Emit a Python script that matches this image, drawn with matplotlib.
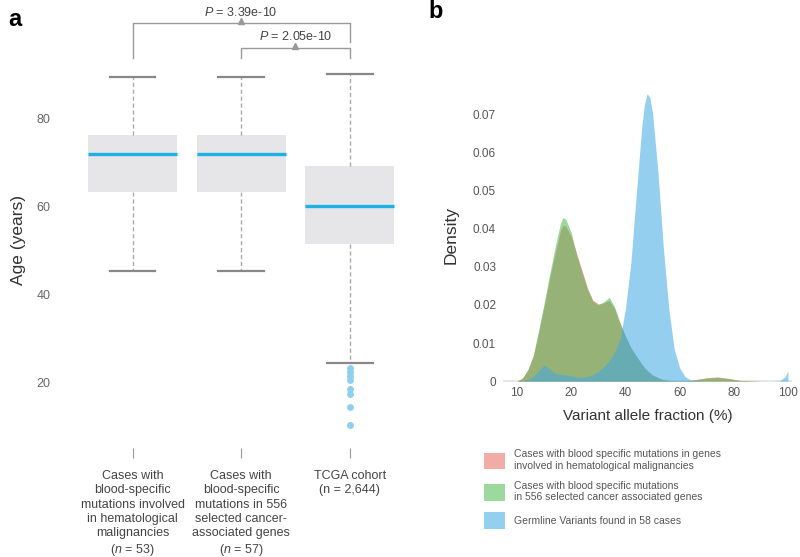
import matplotlib
matplotlib.use('Agg')
import matplotlib.pyplot as plt
from matplotlib.patches import Patch

plt.rcParams['font.family'] = ['Liberation Sans', 'DejaVu Sans']
plt.rcParams['mathtext.fontset'] = 'custom'
plt.rcParams['mathtext.rm'] = 'Liberation Sans'
plt.rcParams['mathtext.it'] = 'Liberation Sans:italic'

# ---- panel a: age box plots ----
group_labels = [
    'Cases with\nblood-specific\nmutations involved\nin hematological\nmalignancies\n($\\it{n}$ = 53)',
    'Cases with\nblood-specific\nmutations in 556\nselected cancer-\nassociated genes\n($\\it{n}$ = 57)',
    'TCGA cohort\n(n = 2,644)',
]
box_med = [72, 72, 60]
box_q1 = [63.2, 63.2, 51.3]
box_q3 = [76.1, 76.1, 69.1]
box_lo = [45.2, 45.2, 24.3]
box_hi = [89.3, 89.3, 90.2]
tcga_outliers = [23.2, 22.3, 21.4, 20.5, 18.4, 17.3, 14.3, 10.2]
p_values = ['3.39e-10', '2.05e-10']

# ---- panel b: VAF densities ----
vaf = [0, 2, 4, 6, 8, 10, 12, 14, 16, 17, 18, 20, 22, 24, 26, 28, 30, 32, 34, 36,
       38, 40, 42, 44, 46, 47, 48, 49, 50, 52, 54, 56, 58, 60, 62, 64, 66, 70, 74,
       78, 82, 86, 90, 94, 97, 99, 100]
dens_heme = [0, 0.0008, 0.003, 0.0066, 0.013, 0.0198, 0.027, 0.0335, 0.0395, 0.041,
             0.0407, 0.038, 0.0335, 0.029, 0.0245, 0.0212, 0.0203, 0.0206, 0.0212, 0.019,
             0.0152, 0.0118, 0.0088, 0.0066, 0.0045, 0.0036, 0.0028, 0.0022, 0.0016, 0.0009,
             0.0004, 0.0002, 0.0001, 0.0001, 0.0001, 0.0002, 0.0004, 0.0009, 0.0011,
             0.0007, 0.0002, 0.0001, 0, 0, 0, 0, 0]
dens_cancer = [0, 0.0008, 0.003, 0.0068, 0.0135, 0.0205, 0.028, 0.035, 0.0415, 0.043,
               0.0425, 0.039, 0.033, 0.0285, 0.024, 0.021, 0.020, 0.0208, 0.022, 0.0195,
               0.0153, 0.0118, 0.0088, 0.0066, 0.0045, 0.0036, 0.0028, 0.0022, 0.0016, 0.0009,
               0.0004, 0.0002, 0.0001, 0.0001, 0.0001, 0.0002, 0.0004, 0.0008, 0.001,
               0.0007, 0.0002, 0.0001, 0, 0, 0, 0, 0]
dens_germ = [0, 0.0001, 0.0004, 0.0012, 0.0028, 0.0042, 0.0032, 0.002, 0.0018, 0.0017,
             0.0016, 0.0014, 0.0011, 0.001, 0.0012, 0.0017, 0.0026, 0.0038, 0.0053, 0.0075,
             0.011, 0.019, 0.031, 0.049, 0.0665, 0.0725, 0.0755, 0.0745, 0.0705, 0.055,
             0.035, 0.019, 0.0085, 0.0035, 0.0012, 0.0003, 0.0001, 0, 0,
             0, 0, 0, 0, 0, 0.0001, 0.0012, 0.0028]
vaf_tick_labels = ['10', '20', '40', '60', '80', '100']
legend_labels = [
    'Cases with blood specific mutations in genes\ninvolved in hematological malignancies',
    'Cases with blood specific mutations\nin 556 selected cancer associated genes',
    'Germline Variants found in 58 cases',
]

W, H = 800, 557
fig = plt.figure(figsize=(8, 5.57), dpi=100)
txt = '#444444'

# ---------------- panel a ----------------
ax = fig.add_axes([60 / W, 1 - 448 / H, 344 / W, 378 / H])
stats = []
for i in range(3):
    stats.append(dict(med=box_med[i], q1=box_q1[i], q3=box_q3[i],
                      whislo=box_lo[i], whishi=box_hi[i],
                      fliers=tcga_outliers if i == 2 else []))
ax.bxp(stats, positions=[1, 2, 3], widths=0.82, patch_artist=True,
       boxprops=dict(facecolor='#e6e6e8', edgecolor='none'),
       medianprops=dict(color='#1fb0e6', linewidth=2.4),
       whiskerprops=dict(color='#aaaaaa', linestyle=(0, (3, 2)), linewidth=1),
       capprops=dict(color='#888888', linewidth=1.6),
       capwidths=0.42,
       flierprops=dict(marker='o', markersize=5, markerfacecolor='#8fd0ee',
                       markeredgecolor='none'))
ax.set_xlim(0.33, 3.5)
ax.set_ylim(5, 91)
ax.set_yticks([20, 40, 60, 80])
ax.set_xticks([1, 2, 3])
ax.set_xticklabels(group_labels, fontsize=9, color=txt, linespacing=1.25, va='top')
ax.tick_params(axis='y', length=0, labelsize=9, labelcolor='#666666', pad=7)
ax.tick_params(axis='x', length=7, color='#999999', pad=9)
for s in ax.spines.values():
    s.set_visible(False)
ax.set_ylabel('Age (years)', fontsize=12.5, color='#333333')
ax.yaxis.set_label_coords(-34 / 344, 0.55)

# significance brackets
bc = '#999999'
ax.plot([1, 1, 3, 3], [93.7, 101.7, 101.7, 97.4], color=bc, lw=1, clip_on=False)
ax.plot([2, 2, 3, 3], [93.7, 96.0, 96.0, 93.7], color=bc, lw=1, clip_on=False)
ax.plot([2], [102.1], marker='^', ms=4, color=bc, clip_on=False)
ax.plot([2.5], [96.4], marker='^', ms=4, color=bc, clip_on=False)
ax.text(2, 104.0, '$\\it{P}$ = ' + p_values[0], ha='center', va='center',
        fontsize=9, color=txt, clip_on=False)
ax.text(2.5, 98.6, '$\\it{P}$ = ' + p_values[1], ha='center', va='center',
        fontsize=9, color=txt, clip_on=False)

# ---------------- panel b ----------------
bx = fig.add_axes([503 / W, 1 - 383 / H, 289 / W, 297 / H])
cols = ['#e8685e', '#4db84f', '#3ea8e5']
for d, c in zip([dens_heme, dens_cancer, dens_germ], cols):
    bx.fill_between(vaf, 0, d, color=c, alpha=0.55, linewidth=0)
bx.axhline(0, color='#e2e2e2', lw=1.2, zorder=0)
bx.set_xlim(-5.2, 101.5)
bx.set_ylim(-0.0005, 0.0775)
bx.set_xticks([0, 20, 40, 60, 80, 100])
bx.set_xticklabels(vaf_tick_labels)
bx.set_yticks([0, 0.01, 0.02, 0.03, 0.04, 0.05, 0.06, 0.07])
bx.set_yticklabels(['0', '0.01', '0.02', '0.03', '0.04', '0.05', '0.06', '0.07'])
bx.tick_params(length=0, labelsize=8.5, labelcolor='#555555')
bx.tick_params(axis='y', pad=5)
bx.tick_params(axis='x', pad=3)
for s in bx.spines.values():
    s.set_visible(False)
bx.set_ylabel('Density', fontsize=12.5, color='#333333', labelpad=10)
bx.set_xlabel('Variant allele fraction (%)', fontsize=11, color='#333333', labelpad=7)

handles = [Patch(facecolor=c, alpha=0.55, edgecolor='none') for c in cols]
fig.legend(handles, legend_labels, loc='upper left',
           bbox_to_anchor=(475 / W, 1 - 440 / H), frameon=False, fontsize=7.5,
           labelcolor='#555555', handlelength=2.0, handleheight=2.1,
           labelspacing=0.95, handletextpad=0.8)

fig.text(8 / W, 1 - 20 / H, 'a', fontsize=17, fontweight='bold', va='center')
fig.text(428 / W, 1 - 12 / H, 'b', fontsize=17, fontweight='bold', va='center')

fig.savefig('out.png', dpi=100)
